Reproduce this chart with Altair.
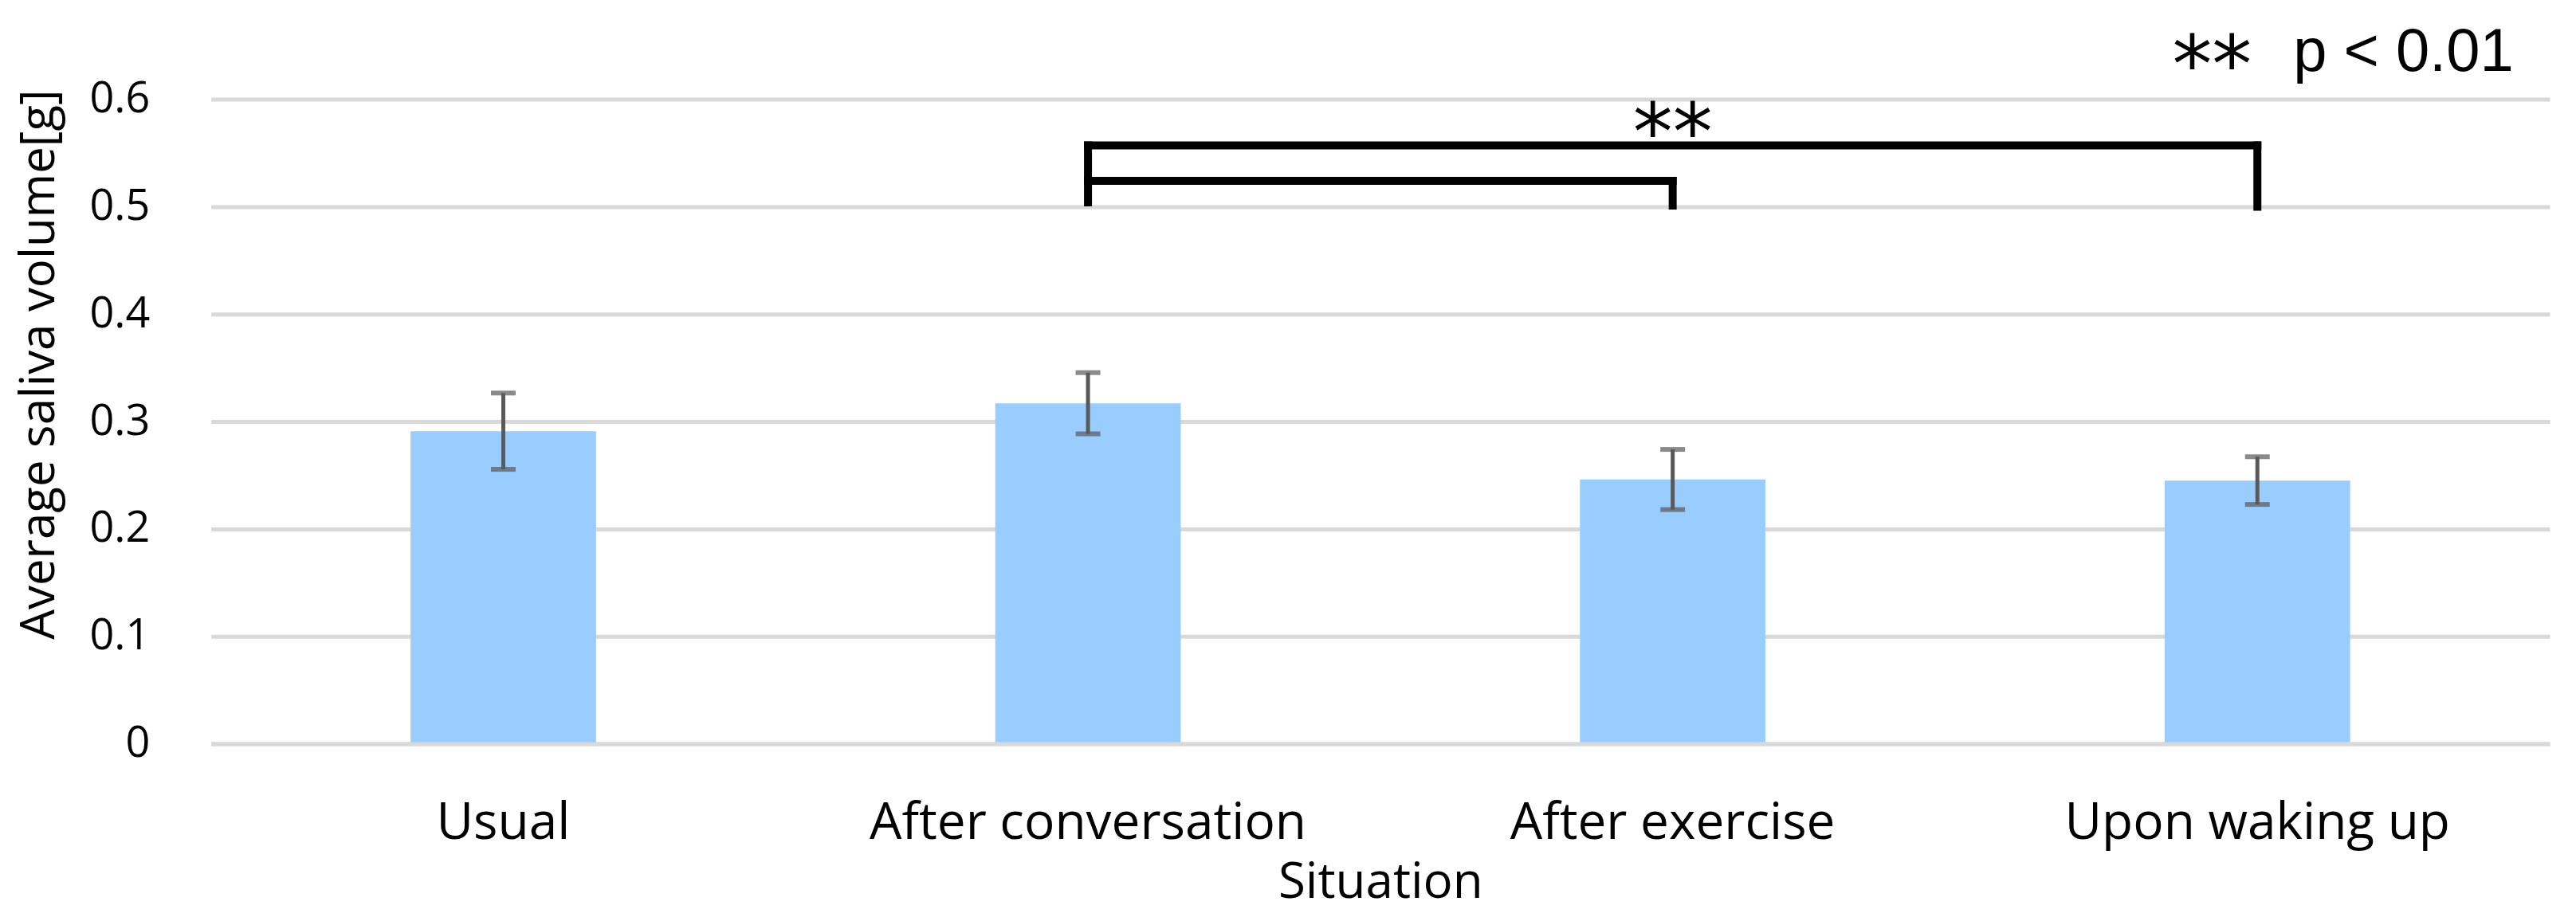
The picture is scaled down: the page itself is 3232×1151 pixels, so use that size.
import altair as alt
import pandas as pd

# ---- data ----
situations = ["Usual", "After conversation", "After exercise", "Upon waking up"]
means = [0.291, 0.317, 0.246, 0.245]
errors = [0.0355, 0.0285, 0.028, 0.0222]
y_ticks = [0, 0.1, 0.2, 0.3, 0.4, 0.5, 0.6]

# significance bracket (After conversation vs After exercise / Upon waking up)
vert_x = ["After conversation", "After exercise", "Upon waking up"]
vert_top = [0.557, 0.524, 0.557]
vert_bottom = [0.504, 0.501, 0.500]
horiz_from = ["After conversation", "After conversation"]
horiz_to = ["Upon waking up", "After exercise"]
horiz_y = [0.557, 0.524]

star_text = ["**", "**"]
star_x = ["After exercise", "Upon waking up"]
star_y = [0.5433, 0.606]
note_text = ["p < 0.01"]
note_x = ["Upon waking up"]
note_y = [0.6267]

FONT = "Open Sans"

df = pd.DataFrame({
    "situation": situations,
    "mean": means,
    "lo": [m - e for m, e in zip(means, errors)],
    "hi": [m + e for m, e in zip(means, errors)],
})
vdf = pd.DataFrame({"situation": vert_x, "top": vert_top, "bottom": vert_bottom})
hdf = pd.DataFrame({"a": horiz_from, "b": horiz_to, "y": horiz_y})
sdf = pd.DataFrame({"situation": star_x, "y": star_y, "t": star_text})
ndf = pd.DataFrame({"situation": note_x, "y": note_y, "t": note_text})

x_enc = alt.X(
    "situation:N", sort=situations, title="Situation",
    scale=alt.Scale(domain=situations),
    axis=alt.Axis(
        labelAngle=0, labelFont=FONT, labelFontSize=64, labelColor="black",
        labelBaseline="alphabetic", labelPadding=119, labelLimit=0,
        ticks=False, tickSize=0,
        domain=True, domainColor="#D9D9D9", domainWidth=5, grid=False,
        titleFont=FONT, titleFontSize=62, titleFontWeight="normal",
        titleColor="black", titleBaseline="alphabetic", titleY=193,
        titleLimit=0, zindex=1,
    ),
)
y_scale = alt.Scale(domain=[0, 0.6], nice=False)
y_enc = alt.Y(
    "mean:Q", scale=y_scale, title="Average saliva volume[g]",
    axis=alt.Axis(
        values=y_ticks, format=".1~f", labelFont=FONT, labelFontSize=54,
        labelColor="black", labelPadding=77, ticks=False, tickSize=0,
        domain=False, grid=True, gridColor="#D9D9D9", gridWidth=5,
        titleFont=FONT, titleFontSize=60, titleFontWeight="normal",
        titleColor="black", titleX=-215, titleY=333, titleAngle=270,
        titleAlign="center", titleBaseline="middle", titleLimit=0,
    ),
)

bars = alt.Chart(df).mark_bar(size=233, color="#99CCFF").encode(x=x_enc, y=y_enc)

xs = alt.X("situation:N", sort=situations)
err_rule = alt.Chart(df).mark_rule(color="#595959", strokeWidth=5).encode(
    x=xs, y=alt.Y("lo:Q", scale=y_scale), y2="hi:Q")
cap_lo = alt.Chart(df).mark_tick(color="#595959", size=31, thickness=6).encode(
    x=xs, y=alt.Y("lo:Q", scale=y_scale))
cap_hi = alt.Chart(df).mark_tick(color="#595959", size=31, thickness=6).encode(
    x=xs, y=alt.Y("hi:Q", scale=y_scale))

vlines = alt.Chart(vdf).mark_rule(color="black", strokeWidth=10, strokeCap="square").encode(
    x=xs, y=alt.Y("top:Q", scale=y_scale), y2="bottom:Q")
hlines = alt.Chart(hdf).mark_rule(color="black", strokeWidth=10, strokeCap="square").encode(
    x=alt.X("a:N", sort=situations), x2="b:N", y=alt.Y("y:Q", scale=y_scale))

stars_main = alt.Chart(sdf.iloc[[0]]).mark_text(
    font="DejaVu Sans", fontSize=100, color="black", baseline="alphabetic", align="center"
).encode(x=xs, y=alt.Y("y:Q", scale=y_scale), text="t:N")
stars_note = alt.Chart(sdf.iloc[[1]]).mark_text(
    font="DejaVu Sans", fontSize=100, color="black", baseline="alphabetic", align="center", dx=-57
).encode(x=xs, y=alt.Y("y:Q", scale=y_scale), text="t:N")
note = alt.Chart(ndf).mark_text(
    font="Liberation Sans", fontSize=76, color="black", baseline="alphabetic", align="left", dx=45
).encode(x=xs, y=alt.Y("y:Q", scale=y_scale), text="t:N")

chart = alt.layer(
    bars, err_rule, cap_lo, cap_hi, vlines, hlines, stars_main, stars_note, note
).properties(
    width=2938, height=810,
    autosize=alt.AutoSizeParams(type="none"),
    padding={"left": 257, "top": 116, "right": 25, "bottom": 208},
    background="white",
).configure_view(stroke=None)

chart.save("out.html", embed_options={"renderer": "svg", "actions": False})
